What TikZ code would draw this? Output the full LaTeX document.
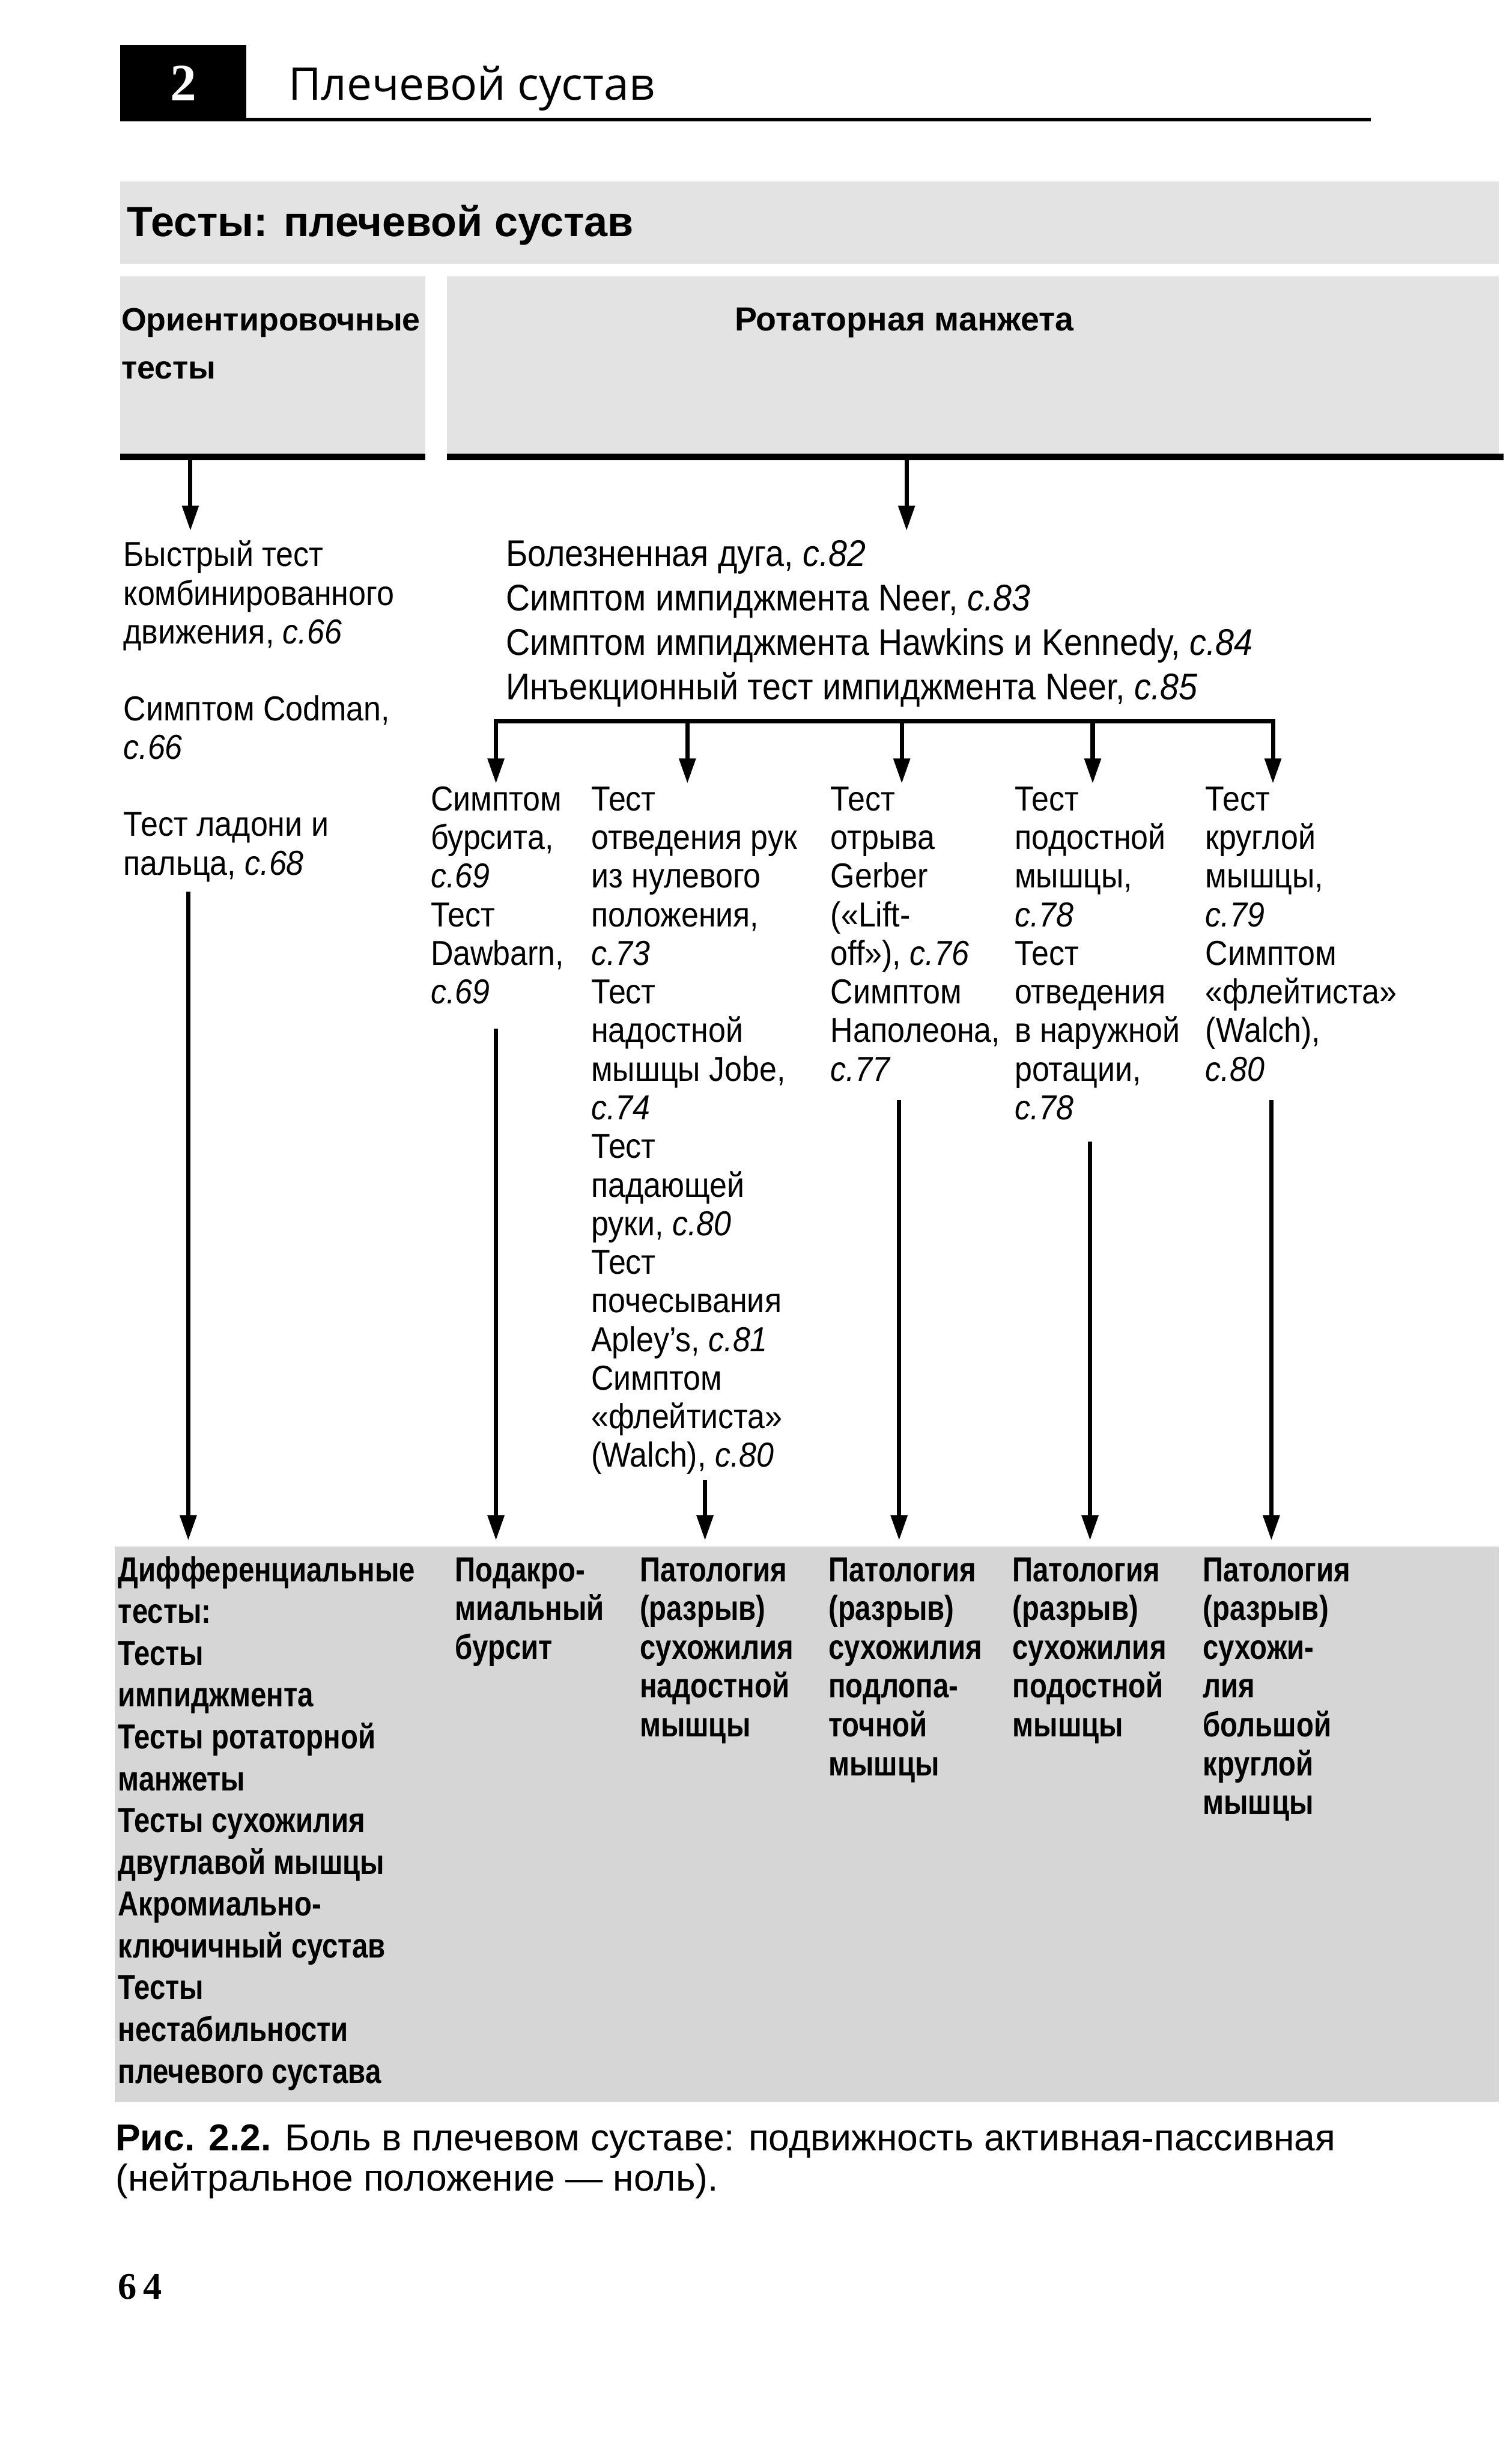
\documentclass[tikz,border=0pt]{standalone}
\usepackage{fontspec}
\setmainfont{Liberation Sans}[FakeStretch=0.9]
\newfontfamily\widefont{Liberation Sans}
\newfontfamily\headfont{Open Sans}
\newfontfamily\condfont{Liberation Sans}[FakeStretch=0.82]
\newfontfamily\numfont{Liberation Serif}
\usetikzlibrary{arrows.meta}

\newcommand\spage[1]{\textit{с.#1}}
\newcommand\colstack[1]{\begin{tabular}[t]{@{}l@{}}#1\end{tabular}}

\begin{document}
\begin{tikzpicture}[
    txt/.style={anchor=base west, inner sep=0pt,
      font=\fontsize{18.5}{20.6}\selectfont},
    head/.style={anchor=base west, inner sep=0pt,
      font=\widefont\bfseries\fontsize{17.8}{25.6}\selectfont},
    res/.style={anchor=base west, inner sep=0pt,
      font=\condfont\bfseries\fontsize{18.5}{20.7}\selectfont},
    arr/.style={line width=0.08cm, -{Triangle[length=0.47cm,width=0.3cm]}},
    rule/.style={line width=0.12cm},
    band/.style={fill=gray!22}
  ]
	\useasboundingbox (0,0) rectangle (28.35,-46.14);
	% chapter heading
	\node[fill=black, minimum width=2.37cm, minimum height=1.43cm, inner sep=0pt,
	  text=white, font=\numfont\bfseries\fontsize{28}{28}\selectfont] (chap) at (3.435,-1.565) {2};
	\node[anchor=base west, inner sep=0pt, font=\headfont\fontsize{24}{24}\selectfont]
	  (chaptitle) at (5.4,-1.88) {Плечевой сустав};
	\draw[line width=0.07cm] (4.62,-2.245) -- (25.71,-2.245);
	% gray headers
	\fill[band] (2.25,-3.4) rectangle (28.1,-4.95);
	\node[head, font=\widefont\bfseries\fontsize{22.5}{22.5}\selectfont] (tests) at (2.38,-4.43) {Тесты: плечевой сустав};
	\fill[band] (2.25,-5.18) rectangle (7.97,-8.5);
	\fill[band] (8.38,-5.18) rectangle (28.1,-8.5);
	\node[head, font=\widefont\bfseries\fontsize{17.2}{25.6}\selectfont] (orient) at (2.27,-6.2) {\colstack{Ориентировочные\\тесты}};
	\node[head] (rotator) at (13.77,-6.2) {Ротаторная манжета};
	\draw[rule] (2.25,-8.57) -- (7.97,-8.57);
	\draw[rule] (8.38,-8.57) -- (28.2,-8.57);
	\coordinate (ol) at (3.57,-8.57);
	\coordinate (rl) at (17.0,-8.57);
	\coordinate (olt) at (3.57,-9.95);
	\coordinate (rlt) at (17.0,-9.95);
	\draw[arr] (ol) -- (olt);
	\draw[arr] (rl) -- (rlt);
	% first level
	\node[txt] (quick) at (2.31,-10.62) {\colstack{Быстрый тест\\комбинированного\\движения, \spage{66}\\[0.72cm]
	  Симптом Codman,\\\spage{66}\\[0.72cm]Тест ладони и\\пальца, \spage{68}}};
	\node[txt, font=\fontsize{19.8}{23.7}\selectfont] (arc) at (9.48,-10.62) {\colstack{Болезненная дуга, \spage{82}\\
	  Симптом импиджмента Neer, \spage{83}\\Симптом импиджмента Hawkins и Kennedy, \spage{84}\\
	  Инъекционный тест импиджмента Neer, \spage{85}}};
	% bracket
	\coordinate (b1) at (9.30,-13.52);
	\coordinate (b2) at (12.89,-13.52);
	\coordinate (b3) at (16.91,-13.52);
	\coordinate (b4) at (20.49,-13.52);
	\coordinate (b5) at (23.87,-13.52);
	\draw[line width=0.08cm, line cap=rect] (b1) -- (b5);
	\draw[arr] (b1) -- (9.30,-14.69);
	\draw[arr] (b2) -- (12.89,-14.69);
	\draw[arr] (b3) -- (16.91,-14.69);
	\draw[arr] (b4) -- (20.49,-14.69);
	\draw[arr] (b5) -- (23.87,-14.69);
	% second level
	\node[txt] (bursa) at (8.07,-15.20) {\colstack{Симптом\\бурсита,\\\spage{69}\\Тест\\Dawbarn,\\\spage{69}}};
	\node[txt] (supra) at (11.08,-15.20) {\colstack{Тест\\отведения рук\\из нулевого\\положения,\\\spage{73}\\Тест\\надостной\\мышцы Jobe,\\\spage{74}\\Тест\\падающей\\руки, \spage{80}\\Тест\\почесывания\\Apley’s, \spage{81}\\Симптом\\«флейтиста»\\(Walch), \spage{80}}};
	\node[txt] (gerber) at (15.57,-15.20) {\colstack{Тест\\отрыва\\Gerber\\(«Lift-\\off»), \spage{76}\\Симптом\\Наполеона,\\\spage{77}}};
	\node[txt] (infra) at (19.02,-15.20) {\colstack{Тест\\подостной\\мышцы,\\\spage{78}\\Тест\\отведения\\в наружной\\ротации,\\\spage{78}}};
	\node[txt] (teres) at (22.60,-15.20) {\colstack{Тест\\круглой\\мышцы,\\\spage{79}\\Симптом\\«флейтиста»\\(Walch),\\\spage{80}}};
	% results
	\fill[gray!32] (2.15,-29.0) rectangle (28.1,-39.4);
	\node[res, font=\condfont\bfseries\fontsize{18.5}{22.3}\selectfont] (diff) at (2.21,-29.65) {\colstack{Дифференциальные\\тесты:\\Тесты\\импиджмента\\Тесты ротаторной\\манжеты\\Тесты сухожилия\\двуглавой мышцы\\Акромиально-\\ключичный сустав\\Тесты\\нестабильности\\плечевого сустава}};
	\node[res] (rbursa) at (8.53,-29.65) {\colstack{Подакро-\\миальный\\бурсит}};
	\node[res] (rsupra) at (11.99,-29.65) {\colstack{Патология\\(разрыв)\\сухожилия\\надостной\\мышцы}};
	\node[res] (rsub) at (15.53,-29.65) {\colstack{Патология\\(разрыв)\\сухожилия\\подлопа-\\точной\\мышцы}};
	\node[res] (rinfra) at (18.98,-29.65) {\colstack{Патология\\(разрыв)\\сухожилия\\подостной\\мышцы}};
	\node[res] (rteres) at (22.55,-29.65) {\colstack{Патология\\(разрыв)\\сухожи-\\лия\\большой\\круглой\\мышцы}};
	\draw[arr] (3.53,-16.72) -- (3.53,-28.88);
	\draw[arr] (9.30,-19.29) -- (9.30,-28.88);
	\draw[arr] (13.22,-27.75) -- (13.22,-28.88);
	\draw[arr] (16.86,-20.63) -- (16.86,-28.88);
	\draw[arr] (20.44,-21.40) -- (20.44,-28.88);
	\draw[arr] (23.84,-20.63) -- (23.84,-28.88);
	% caption
	\node[txt, font=\widefont\fontsize{20}{21.6}\selectfont] (caption) at (2.16,-40.32) {\colstack{\textbf{Рис. 2.2.} Боль в плечевом суставе: подвижность активная-пассивная\\(нейтральное положение — ноль).}};
	\node[anchor=base west, inner sep=0pt, font=\numfont\bfseries\fontsize{20}{20}\selectfont] (pagenum) at (2.21,-43.10) {6\,4};
\end{tikzpicture}
\end{document}
